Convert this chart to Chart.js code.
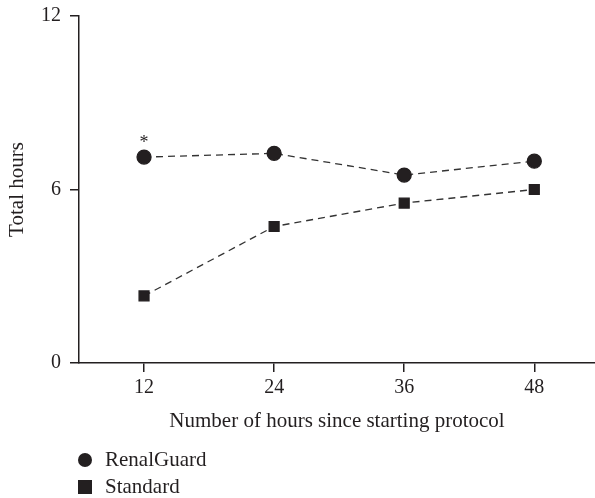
<!DOCTYPE html>
<html>
<head>
<meta charset="utf-8">
<script src="https://cdn.jsdelivr.net/npm/chart.js@4"></script>
<style>
  html, body { margin: 0; padding: 0; background: #fff; }
  #wrap { position: relative; width: 595px; height: 498px; }
  #legend { position: absolute; left: 78px; top: 446px; font-family: "Liberation Serif", serif; font-size: 21px; color: #231f20; }
  .item { height: 27px; display: flex; align-items: center; }
  .mark { width: 14px; height: 14px; background: #231f20; margin-right: 13px; }
  .circle { border-radius: 50%; }
</style>
</head>
<body>
<div id="wrap">
  <canvas id="chart" width="595" height="498"></canvas>
  <div id="legend">
    <div class="item"><span class="mark circle"></span>RenalGuard</div>
    <div class="item"><span class="mark"></span>Standard</div>
  </div>
</div>
<script>
const hours = [12, 24, 36, 48];
const renalGuard = [7.12, 7.25, 6.5, 6.98];
const standard = [2.32, 4.72, 5.53, 6.0];
const yTicks = [0, 6, 12];

const ink = '#231f20';
const font = { family: 'Liberation Serif', size: 20 };
const titleFont = { family: 'Liberation Serif', size: 21 };

// asterisk over the first RenalGuard point
const starPlugin = {
  id: 'star',
  afterDatasetsDraw(chart) {
    const ctx = chart.ctx;
    const x = chart.scales.x.getPixelForValue(hours[0]);
    const y = chart.scales.y.getPixelForValue(renalGuard[0]);
    ctx.save();
    ctx.fillStyle = ink;
    ctx.font = '18px "Liberation Serif"';
    ctx.textAlign = 'center';
    ctx.fillText('*', x, y - 9);
    ctx.restore();
  }
};

const ctx = document.getElementById('chart').getContext('2d');
const myChart = new Chart(ctx, {
  type: 'line',
  data: {
    datasets: [{
      label: 'RenalGuard',
      data: hours.map((h, i) => ({ x: h, y: renalGuard[i] })),
      borderColor: '#333',
      borderWidth: 1.3,
      borderDash: [7, 5],
      pointStyle: 'circle',
      pointRadius: 7,
      pointBackgroundColor: ink,
      pointBorderColor: ink,
      tension: 0
    }, {
      label: 'Standard',
      data: hours.map((h, i) => ({ x: h, y: standard[i] })),
      borderColor: '#333',
      borderWidth: 1.3,
      borderDash: [7, 5],
      pointStyle: 'rect',
      pointRadius: 7,
      pointBackgroundColor: ink,
      pointBorderColor: ink,
      tension: 0
    }]
  },
  options: {
    responsive: false,
    animation: false,
    layout: { autoPadding: false, padding: { top: 16, right: 0, bottom: 0, left: 0 } },
    plugins: { legend: { display: false }, tooltip: { enabled: false } },
    scales: {
      x: {
        type: 'linear',
        min: 6,
        max: 53.6,
        afterBuildTicks(scale) { scale.ticks = hours.map(v => ({ value: v })); },
        afterFit(scale) { scale.height = 135; },
        ticks: { color: ink, font: font, padding: 4 },
        grid: { drawOnChartArea: false, tickLength: 9, color: ink, lineWidth: 1.5 },
        border: { color: ink, width: 1.5 },
        title: { display: true, text: 'Number of hours since starting protocol', color: ink, font: titleFont, padding: { top: 0, bottom: 64 } }
      },
      y: {
        min: 0,
        max: 12,
        afterBuildTicks(scale) { scale.ticks = yTicks.map(v => ({ value: v })); },
        afterFit(scale) { scale.width = 79; scale.paddingTop = 0; scale.paddingBottom = 0; },
        ticks: { color: ink, font: font, padding: 9 },
        grid: { drawOnChartArea: false, tickLength: 9, color: ink, lineWidth: 1.5 },
        border: { color: ink, width: 1.5 },
        title: { display: true, text: 'Total hours', color: ink, font: titleFont, padding: { top: 5, bottom: 0 } }
      }
    }
  },
  plugins: [starPlugin]
});
</script>
</body>
</html>
